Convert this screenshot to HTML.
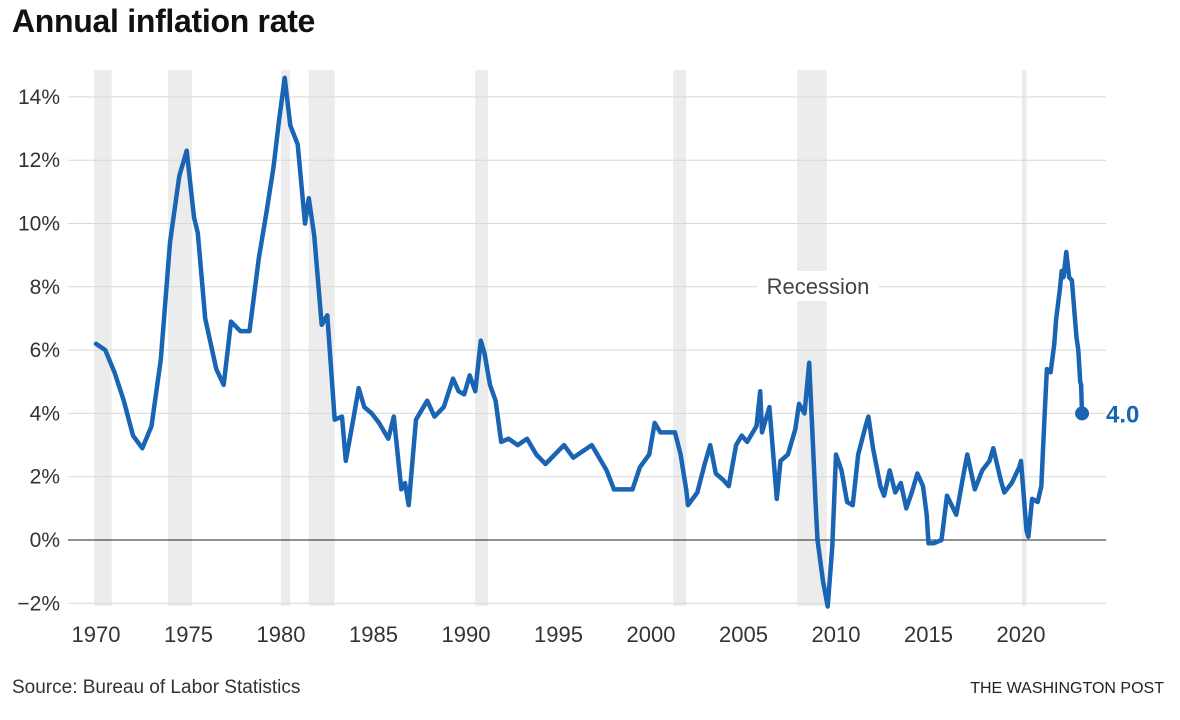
<!DOCTYPE html>
<html><head><meta charset="utf-8">
<style>
html,body{margin:0;padding:0;background:#fff;}
body{width:1180px;height:720px;overflow:hidden;font-family:"Liberation Sans",sans-serif;}
#title{position:absolute;left:12px;top:3px;font-size:32px;font-weight:bold;color:#111;letter-spacing:-0.3px;}
#source{position:absolute;left:12px;top:677px;font-size:19px;color:#333;}
#credit{position:absolute;right:16px;top:680px;font-size:16px;color:#222;}
svg{position:absolute;left:0;top:0;}
</style></head>
<body>
<div id="title">Annual inflation rate</div>
<div id="source">Source: Bureau of Labor Statistics</div>
<div id="credit">THE WASHINGTON POST</div>
<svg id="chart" width="1180" height="720"></svg>
<script>
const years=[1970,1970.5,1971,1971.5,1972,1972.5,1973,1973.5,1974,1974.5,1974.9,1975.3,1975.5,1975.9,1976.5,1976.9,1977.3,1977.8,1978.3,1978.8,1979.2,1979.6,1979.9,1980.2,1980.5,1980.9,1981.3,1981.5,1981.8,1982.2,1982.5,1982.9,1983.3,1983.5,1983.9,1984.2,1984.5,1984.9,1985.3,1985.8,1986.1,1986.5,1986.7,1986.9,1987.3,1987.9,1988.3,1988.8,1989.3,1989.6,1989.9,1990.2,1990.5,1990.8,1991,1991.3,1991.6,1991.9,1992.3,1992.8,1993.3,1993.8,1994.3,1994.8,1995.3,1995.8,1996.3,1996.8,1997.2,1997.6,1998,1998.5,1999,1999.4,1999.9,2000.2,2000.5,2000.9,2001.3,2001.6,2001.9,2002,2002.5,2002.9,2003.2,2003.5,2003.9,2004.2,2004.6,2004.9,2005.2,2005.7,2005.9,2006,2006.4,2006.8,2007,2007.4,2007.8,2008,2008.3,2008.55,2008.9,2009,2009.3,2009.55,2009.8,2010,2010.3,2010.6,2010.9,2011.2,2011.6,2011.75,2012,2012.4,2012.6,2012.9,2013.2,2013.5,2013.8,2014.1,2014.4,2014.7,2014.9,2015,2015.3,2015.7,2016,2016.5,2016.9,2017.1,2017.5,2017.9,2018.3,2018.5,2018.9,2019.1,2019.5,2019.9,2020,2020.3,2020.4,2020.6,2020.9,2021.1,2021.3,2021.4,2021.6,2021.8,2021.9,2022.1,2022.2,2022.3,2022.45,2022.6,2022.75,2022.9,2023,2023.1,2023.2,2023.25,2023.3];
const rates=[6.2,6.0,5.3,4.4,3.3,2.9,3.6,5.7,9.4,11.5,12.3,10.2,9.7,7.0,5.4,4.9,6.9,6.6,6.6,8.9,10.3,11.8,13.3,14.6,13.1,12.5,10.0,10.8,9.6,6.8,7.1,3.8,3.9,2.5,3.8,4.8,4.2,4.0,3.7,3.2,3.9,1.6,1.8,1.1,3.8,4.4,3.9,4.2,5.1,4.7,4.6,5.2,4.7,6.3,5.9,4.9,4.4,3.1,3.2,3.0,3.2,2.7,2.4,2.7,3.0,2.6,2.8,3.0,2.6,2.2,1.6,1.6,1.6,2.3,2.7,3.7,3.4,3.4,3.4,2.7,1.6,1.1,1.5,2.4,3.0,2.1,1.9,1.7,3.0,3.3,3.1,3.6,4.7,3.4,4.2,1.3,2.5,2.7,3.5,4.3,4.0,5.6,1.1,0.0,-1.3,-2.1,-0.2,2.7,2.2,1.2,1.1,2.7,3.6,3.9,2.9,1.7,1.4,2.2,1.5,1.8,1.0,1.5,2.1,1.7,0.8,-0.1,-0.1,0.0,1.4,0.8,2.1,2.7,1.6,2.2,2.5,2.9,1.9,1.5,1.8,2.3,2.5,0.3,0.1,1.3,1.2,1.7,4.2,5.4,5.3,6.2,7.0,7.9,8.5,8.3,9.1,8.3,8.2,7.1,6.4,6.0,5.0,4.9,4.0];
const recStart=[1969.9,1973.9,1980.0,1981.5,1990.5,2001.2,2007.9,2020.05];
const recEnd=[1970.85,1975.2,1980.5,1982.9,1991.2,2001.9,2009.5,2020.3];
const yTicks=[-2,0,2,4,6,8,10,12,14];
const xTicks=[1970,1975,1980,1985,1990,1995,2000,2005,2010,2015,2020];
const lastLabel="4.0";

const X=y=>96+(y-1970)*18.5;
const Y=v=>540-v*31.65;
const NS="http://www.w3.org/2000/svg";
const svg=document.getElementById('chart');
function mk(t,a){const e=document.createElementNS(NS,t);for(const k in a)e.setAttribute(k,a[k]);svg.appendChild(e);return e;}

recStart.forEach((s,i)=>{
  const r=mk('rect',{x:X(s),y:70,width:X(recEnd[i])-X(s),height:536,fill:'#ececec'});
  
  
});
yTicks.forEach(v=>{
  const l=mk('line',{x1:68,x2:1106,y1:Y(v),y2:Y(v),stroke:v===0?'#222':'#d8d8d8','stroke-width':1});
  
  
  const t=mk('text',{x:60,y:Y(v)+7,'text-anchor':'end','font-size':21,fill:'#333','font-family':'Liberation Sans, sans-serif'});
  t.textContent=(v<0?'\u22122':v)+'%';
  
  
});
xTicks.forEach(yr=>{
  const t=mk('text',{x:X(yr),y:642,'text-anchor':'middle','font-size':22,fill:'#333','font-family':'Liberation Sans, sans-serif'});
  t.textContent=yr;
  
  
});
const bg=mk('rect',{x:757,y:271,width:122,height:30,fill:'#fff'});


const rl=mk('text',{x:818,y:294,'text-anchor':'middle','font-size':22,fill:'#444','font-family':'Liberation Sans, sans-serif'});
rl.textContent='Recession';



let d='';
years.forEach((y,i)=>{d+=(i?'L':'M')+X(y).toFixed(1)+' '+Y(rates[i]).toFixed(1);});
const p=mk('path',{d:d,fill:'none',stroke:'#1a64b4','stroke-width':4.5,'stroke-linejoin':'round','stroke-linecap':'round'});


const n=years.length-1;
const dot=mk('circle',{cx:X(years[n]),cy:Y(rates[n]),r:7,fill:'#1a64b4'});


const lv=mk('text',{x:1106,y:Y(rates[n])+9,'font-size':24,'font-weight':'bold',fill:'#1a64b4','font-family':'Liberation Sans, sans-serif'});
lv.textContent=lastLabel;


</script>
</body></html>
